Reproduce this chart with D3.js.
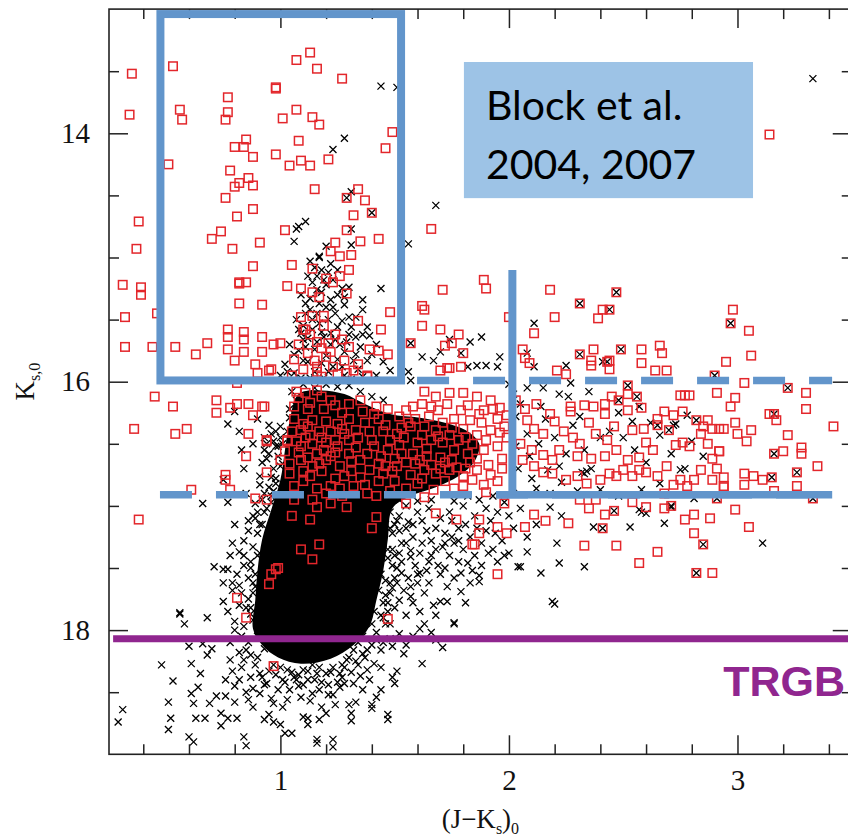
<!DOCTYPE html>
<html>
<head>
<meta charset="utf-8">
<script src="https://cdn.jsdelivr.net/npm/d3@7"></script>
<style>
  body { margin: 0; background: #fff; }
  svg { display: block; }
</style>
</head>
<body>
<script>
// ---- Axis ticks ----
const xMajorTicks = [1, 2, 3];
const xMinorTicks = [0.4, 0.6, 0.8, 1.2, 1.4, 1.6, 1.8, 2.2, 2.4, 2.6, 2.8, 3.2, 3.4];
const yMajorTicks = [14, 16, 18];
const yMinorTicks = [13.5, 14.5, 15, 15.5, 16.5, 17, 17.5, 18.5];

// ---- All detected stars (black crosses), [J-Ks, Ks] ----
const fieldUpper = [[1.44,13.62],[1.51,13.63],[1.28,14.04],[1.23,14.13],[1.31,14.47],[1.07,14.77],[1.11,14.71],[1.08,14.75],[1.06,14.87],[1.31,14.77],[1.31,14.90],[1.56,14.89],[1.17,14.99],[1.20,14.91],[3.33,13.56],[1.68,14.58]];
const fieldPlume = [[1.17,15.00],[1.22,15.05],[1.25,15.10],[1.19,15.18],[1.16,15.26],[1.11,15.37],[1.22,15.34],[1.28,15.32],[1.30,15.24],[1.36,15.34],[1.44,15.25],[1.39,15.63],[1.48,15.91],[1.32,15.83],[1.11,15.72],[1.10,15.83],[1.13,15.42],[1.17,15.53],[1.22,15.61],[1.25,15.56],[1.30,15.48],[1.33,15.64],[1.16,15.68],[1.20,15.79],[1.25,15.82],[1.29,15.68],[1.36,15.42],[1.38,15.56],[1.09,15.61],[1.07,15.50],[1.08,15.75],[1.06,15.93],
  [1.12,15.15],[1.14,15.20],[1.18,15.28],[1.20,15.40],[1.14,15.50],[1.18,15.60],[1.12,15.65],[1.26,15.70],[1.23,15.88],[1.15,15.92],[1.19,15.97],[1.28,15.95],[1.34,15.90],[1.40,15.78],[1.10,15.55],[1.24,15.45],[1.27,15.25],[1.21,15.12],[1.15,15.08],[1.09,15.30],[1.31,15.56],[1.35,15.72],[1.04,15.70],[1.02,15.86],[1.00,15.95],[1.45,15.84],[1.42,15.70],
  [1.13,15.03],[1.18,15.10],[1.23,15.18],[1.16,15.15],[1.20,15.22],[1.25,15.30],[1.13,15.33],[1.17,15.37],[1.23,15.40],[1.28,15.38],[1.11,15.45],[1.16,15.45],[1.21,15.50],[1.27,15.51],[1.33,15.48],[1.08,15.58],[1.14,15.58],[1.19,15.64],[1.24,15.66],[1.30,15.62],[1.36,15.62],[1.10,15.66],[1.15,15.74],[1.22,15.70],[1.28,15.76],[1.33,15.78],[1.38,15.83],[1.06,15.78],[1.12,15.84],[1.18,15.85],[1.21,15.92],[1.27,15.88],[1.31,15.98],[1.36,15.96],[1.42,15.95],[1.09,15.97],[1.03,15.92],[1.13,15.97],
  [1.10,16.02],[1.15,16.05],[1.20,16.02],[1.25,16.04],[1.30,16.03],[1.35,16.08],[1.40,16.12],[1.45,16.15],[1.05,16.08],
  [1.83,15.68],[1.88,15.64],[1.70,15.76],[1.62,15.80],[1.56,15.92],[1.57,15.99],[1.96,15.80],[1.95,15.88],[2.11,15.53],[2.08,15.77],[2.11,15.88],[2.25,15.87],[2.27,16.01],[2.41,15.84],[1.74,15.66],[1.79,15.77],[1.67,15.83],[1.82,15.88],[1.86,15.87],[1.90,15.87]];
const fieldSide = [[0.77,16.34],[0.82,16.40],[0.83,16.55],[0.80,16.24],[0.66,16.98],[0.77,16.97],[0.91,16.83],[0.88,17.08],[0.75,16.79],[0.98,16.52],[1.00,16.36],[0.94,16.50],[0.79,17.30],[0.99,16.52],[1.01,16.66],[0.98,16.82],[1.04,16.29],[1.07,16.15],[0.90,16.30],[0.93,16.45],[0.95,16.58],[0.92,16.65],[0.97,16.88],[0.98,16.40],
  [0.93,16.90],[0.96,16.97],[0.90,17.05],[0.92,17.15],[0.86,17.20],[0.88,17.33],[0.84,17.40],[0.86,17.58],[0.83,17.70],[0.85,17.82],[0.80,17.93],[0.83,18.05],[0.78,18.10],[0.87,18.20],[0.89,17.65],[0.87,17.45],[0.89,17.10],[0.95,16.85],[0.97,16.70],[0.99,16.60],[1.00,16.45],[0.96,16.42],
  [1.52,17.08],[1.55,17.18],[1.50,17.40],[1.53,17.45],[1.50,17.58],[1.47,17.85],[1.45,17.90],[1.42,18.08],[1.38,18.16],[1.30,18.22],[1.52,17.20],[1.56,17.13],
  [1.55,17.00],[1.60,17.05],[1.65,17.02],[1.70,17.10],[1.74,17.05],[1.80,17.00],[1.85,17.08],[1.90,17.02],[1.95,17.05],[2.00,17.08],[1.58,17.15],[1.64,17.20],[1.72,17.22],[1.78,17.18],[1.83,17.25],[1.90,17.20],[1.97,17.28],[1.62,17.30],[1.68,17.35],[1.92,17.12],[1.87,16.95],[1.93,16.92],[1.98,16.97],[2.02,16.90],
  [1.52,16.95],[1.60,16.96],[1.66,16.95],[1.76,16.96],[1.82,16.92],[1.62,17.12],[1.68,17.18],[1.75,17.12],[1.81,17.15],[1.86,17.18],[1.58,17.25],[1.66,17.40],[1.72,17.30],[1.78,17.28],[1.88,17.30],[1.94,17.22],[2.02,17.18],[1.60,17.55],[1.64,17.52],[1.72,17.50],[1.84,17.52],[1.98,17.40]];
// crosses crowding the edges of the core
const fieldFeather = [[0.95,16.35],[0.97,16.48],[0.94,16.62],[0.96,16.77],[0.92,16.95],[0.94,17.02],[0.90,17.22],[0.91,17.38],[0.87,17.50],[0.88,17.62],[0.86,17.75],[0.87,17.87],[0.84,17.97],[0.86,18.10],[0.90,18.22],[0.82,17.80],[0.81,17.55],[0.84,17.28],[0.86,17.12],[0.89,16.98],[0.91,16.76],[0.93,16.55],[0.85,16.90],[0.80,17.15],[0.78,17.40],[0.79,17.68],[0.80,18.00],[0.77,17.85],[0.75,17.62],[0.82,18.18],[0.84,16.70],[0.88,16.50],
  [0.90,17.40],[0.89,17.55],[0.88,17.70],[0.87,17.82],[0.88,17.92],[0.90,18.05],[0.93,18.15],[0.91,17.15],[0.93,17.05],[0.96,16.92],[0.98,16.78],[1.00,16.68],[1.01,16.50],[1.03,16.40],[1.04,16.22],
  [1.48,17.05],[1.51,17.12],[1.49,17.22],[1.53,17.30],[1.47,17.35],[1.51,17.50],[1.48,17.62],[1.54,17.68],[1.46,17.72],[1.50,17.82],[1.44,17.88],[1.48,17.95],[1.42,18.02],[1.45,18.10],[1.40,18.12],[1.36,18.19],[1.33,18.25],[1.27,18.28],[1.57,17.36],[1.59,17.48],[1.56,17.58],[1.60,17.62],[1.58,17.78],[1.55,17.88],[1.63,17.70],[1.65,17.45],[1.66,17.28],[1.71,17.33],[1.75,17.25],[1.80,17.35],[1.85,17.40],[1.78,17.45],[1.70,17.55],[1.73,17.65],[1.67,17.80],[1.63,17.95],[1.58,18.05],[1.55,18.12],[1.68,18.08],[1.81,17.78],[1.95,17.45],[2.00,17.38],[2.08,17.25],[2.12,17.15],[2.05,17.02],[1.93,17.35],[1.88,17.48],[1.83,17.62],
  [1.46,17.10],[1.48,17.18],[1.45,17.30],[1.47,17.42],[1.44,17.55],[1.46,17.60],[1.43,17.68],[1.45,17.78],[1.41,17.85],[1.40,17.95],[1.36,18.05],[1.34,18.10],[1.50,17.15],[1.52,17.38],[1.49,17.66],[1.47,17.78],
  [0.97,18.28],[1.03,18.32],[1.08,18.36],[1.12,18.33],[1.17,18.30],[1.22,18.34],[1.27,18.38],[1.31,18.34],[1.02,18.42],[1.06,18.38],[1.10,18.44],[1.15,18.40],[1.21,18.44],[0.92,18.38],[0.98,18.36],[1.25,18.42]];
const fieldLower = [[0.31,18.64],[0.29,18.74],[0.48,18.28],[0.53,18.41],[0.51,18.58],[0.51,18.80],[0.52,18.71],[0.56,17.87],[0.58,17.95],[0.68,17.90],[0.60,18.13],[0.61,18.27],[0.61,18.51],[0.62,18.59],[0.60,18.86],[0.62,18.90],[0.63,18.71],[0.67,18.71],[0.69,18.59],[0.71,17.49],[0.75,17.51],[0.77,17.51],[0.75,17.77],[0.79,17.62],[0.82,17.64],[0.82,17.37],[0.84,17.48],[0.74,18.67],[0.74,18.77],[0.77,18.71],[0.81,18.71],[0.84,18.86],[0.85,18.93],[0.64,18.46],[0.65,18.35],[0.68,18.20],[0.70,18.15],[0.66,18.11],[0.72,18.53],[0.76,18.53],[0.80,18.58],[0.85,18.50],[0.88,18.62],[0.93,18.72],[0.95,18.68],[0.97,18.74],[1.00,18.76],[1.02,18.83],[1.05,18.83],[1.01,18.62],[0.97,18.59],[1.09,18.54],[1.10,18.70],[1.12,18.71],[1.17,18.72],[1.20,18.67],[1.16,18.88],[1.23,18.88],[1.14,18.51],[1.17,18.48],[1.23,18.52],[1.26,18.46],[1.28,18.43],[1.30,18.60],[1.31,18.67],[1.33,18.58],[1.40,18.60],[1.42,18.54],[1.47,18.68],[1.44,18.48],[1.49,18.38],[1.51,18.33],[1.41,18.27],[1.38,18.32],[1.35,18.37],[1.32,18.43],[1.54,18.19],[1.49,18.13],[1.62,18.27],[1.71,18.14],[1.61,17.99],[1.66,18.02],[1.76,17.94],[1.68,17.88],[1.61,17.85],[1.57,17.73],[1.52,17.76],[1.57,17.65],[1.51,17.62],[1.53,17.54],[1.61,17.54],[1.65,17.62],[1.69,17.48],[1.74,17.40],[1.79,17.54],[1.76,17.58],[1.79,17.69],[1.73,17.77],[1.70,17.77],[1.82,17.46],[1.87,17.61],[1.91,17.38],[1.87,17.56],[2.04,17.49],[1.76,17.30],[1.61,17.38],[1.57,17.41],[1.49,17.35],[1.55,17.30],[1.49,17.48],[1.48,17.70],[1.46,17.95],[1.52,18.03],[1.48,18.07],[1.44,18.16],[0.85,18.16],[0.84,18.24],[0.79,18.33],[0.76,18.40],[0.82,18.40],[0.87,18.38],[0.91,18.35],[0.94,18.43],[0.91,18.51],[1.01,18.40],[1.04,18.48],[1.07,18.40],[1.12,18.40],[1.10,18.32],[1.16,18.35],[1.20,18.35],[1.23,18.30],[1.26,18.35],[1.29,18.24],[1.32,18.16],
  [1.00,18.30],[1.05,18.34],[1.14,18.28],[0.95,18.33],[0.89,18.28],[1.18,18.42],[1.08,18.45],[0.99,18.48],[0.93,18.44],[1.21,18.52],[1.13,18.57],[1.03,18.56],[0.96,18.55],[0.88,18.47],[0.80,18.45],[1.28,18.30],[1.34,18.28],[1.37,18.22],[1.44,18.30],[1.39,18.40],[1.36,18.48],[1.24,18.60],[0.83,18.30],[0.78,18.24],[0.86,18.56],[1.18,18.62],
  [1.76,17.95],[1.47,18.72],[1.31,18.73],[1.40,18.63],[1.50,18.43],[1.16,18.91],[1.23,18.94],[1.12,18.76],[2.20,17.79],[0.56,17.86]];
const fieldRight = [[2.02,16.10],[2.05,16.18],[2.03,16.28],[2.08,16.42],[2.03,16.52],[2.09,16.60],[2.04,16.70],[2.10,16.78],[2.13,16.50],[2.16,16.30],[2.20,16.45],[2.22,16.68],[2.25,16.58],[2.28,16.35],[2.31,16.28],[2.33,16.55],[2.36,16.70],[2.40,16.45],[2.44,16.40],[2.26,16.12],[2.14,16.20],[2.35,16.08],[2.18,16.90],[2.30,16.88],[2.12,16.86],[2.40,16.87],[2.50,16.45],[2.55,16.55],[2.60,16.65],[2.62,16.33],[2.66,16.43],[2.71,16.58],[2.48,16.25],[2.57,16.20],[2.73,16.34],[2.80,16.48],[2.85,16.60],[2.77,16.70],[2.58,16.87],[2.66,16.82],[2.48,16.92],
  [2.32,16.73],[2.33,16.74],[2.34,16.72],[2.54,16.32],[2.72,16.35],[2.68,17.14],[2.53,17.17],[2.37,17.17],[2.21,17.30],[2.08,17.37],[2.05,17.49],[2.14,17.54],[2.22,17.46],[2.33,17.49],[2.19,17.77],[3.11,17.30],[2.81,16.94],[2.58,17.05],[2.60,17.06],[2.71,17.01],[2.75,16.71],[2.17,16.71],[2.23,16.81],[2.57,17.03],[2.00,16.02],[2.08,16.05],[2.15,16.05],[2.22,16.10],[2.18,17.01],[2.23,17.08]];
// stars that also carry a red mark
const fieldMatched = [[2.47,15.28],[2.31,15.37],[2.44,15.42],[2.97,15.53],[2.49,15.74],[2.31,15.78],[2.43,15.84],[2.90,15.95],[2.52,16.03],[3.22,16.05],[3.16,16.26],[3.16,16.58],[3.26,16.73],[3.15,16.77],[3.33,16.94],[2.91,16.94],[2.85,17.31],[2.82,17.54],[2.71,17.00],[2.46,17.04],[2.41,17.18],[2.82,16.31],[2.78,16.27],[2.65,16.35],[2.70,16.39],[2.56,16.12],[2.48,16.15],[1.29,14.52],[1.40,14.64],[1.57,15.69]];

// Region where the crosses overlap completely (J-Ks, Ks outline)
const denseCoreOutline = [[1.08,16.10],[1.18,16.07],[1.28,16.10],[1.37,16.18],[1.48,16.26],[1.61,16.29],[1.72,16.33],[1.82,16.40],[1.87,16.50],[1.85,16.64],[1.78,16.76],[1.68,16.85],[1.57,16.92],[1.49,17.02],[1.47,17.27],[1.45,17.52],[1.42,17.76],[1.39,17.97],[1.32,18.12],[1.22,18.23],[1.09,18.27],[0.99,18.22],[0.92,18.12],[0.88,17.99],[0.89,17.76],[0.90,17.52],[0.92,17.27],[0.96,17.03],[1.00,16.79],[1.02,16.55],[1.04,16.32]];

// ---- Red-giant / AGB candidates (red squares), [J-Ks, Ks] ----
const agbUpper = [[0.35,13.52],[0.34,13.85],[0.53,13.46],[1.13,13.35],[1.07,13.41],[1.16,13.48],[1.27,13.56],[0.98,13.63],[0.98,13.64],[0.77,13.71],[0.56,13.81],[0.57,13.89],[0.77,13.83],[0.76,13.89],[1.01,13.88],[1.07,13.81],[1.14,13.87],[1.17,13.93],[1.49,13.99],[0.85,14.05],[0.80,14.11],[0.84,14.11],[0.88,14.19],[1.08,14.06],[0.98,14.17],[1.04,14.26],[1.09,14.22],[1.13,14.26],[1.21,14.21],[1.46,14.12],[0.51,14.25],[0.78,14.30],[0.86,14.36],[0.82,14.40],[0.80,14.43],[0.88,14.42],[0.76,14.52],[1.15,14.45],[1.34,14.45],[1.29,14.52],[1.37,14.54],[0.38,14.71],[0.37,14.93],[0.88,14.61],[0.81,14.67],[1.32,14.66],[1.40,14.64],[1.02,14.78],[1.29,14.78],[0.74,14.79],[0.70,14.85],[0.91,14.88],[0.79,14.93],[1.43,14.85],[1.35,14.87],[1.24,14.88],[1.22,14.95],[1.26,14.99],[1.31,14.98],[0.31,15.22],[0.39,15.24],[0.39,15.30]];
const agbBoxLower = [[0.88,15.07],[0.82,15.20],[0.82,15.21],[0.85,15.20],[1.05,15.06],[1.14,15.09],[1.20,15.17],[1.23,15.20],[1.26,15.15],[1.03,15.23],[1.09,15.25],[1.14,15.28],[1.17,15.32],[0.82,15.37],[0.92,15.38],[1.29,15.29],[1.30,15.10],[1.48,15.44],[1.34,15.51],[1.44,15.58],[1.09,15.48],[1.14,15.47],[1.19,15.47],[1.11,15.58],[0.77,15.58],[0.77,15.64],[0.84,15.60],[0.84,15.66],[0.92,15.64],[0.97,15.70],[1.00,15.69],[0.68,15.69],[0.63,15.78],[0.54,15.72],[0.77,15.74],[0.80,15.83],[0.84,15.76],[0.92,15.76],[0.89,15.86],[0.96,15.90],[0.90,15.93],[1.10,15.58],[1.19,15.55],[1.24,15.62],[1.39,15.74],[1.43,15.75],[1.47,15.78],[1.38,15.95],[1.29,15.93],[1.25,15.94],[1.16,15.88],[1.15,15.83],[1.20,15.80],[1.28,15.83],[1.34,15.86],[1.30,15.72],[1.27,15.66],[1.21,15.69],[0.46,15.45],[0.44,15.72],[0.32,15.48],[0.32,15.72],
  [1.13,15.62],[1.16,15.68],[1.08,15.70],[1.12,15.77],[1.18,15.73],[1.22,15.76],[1.06,15.82],[1.10,15.90],[1.18,15.96],[1.23,15.88],[1.05,15.95]];
const agbLeft = [[0.45,16.12],[0.53,16.20],[0.72,16.15],[0.72,16.25],[0.78,16.21],[0.81,16.18],[0.86,16.18],[0.92,16.20],[0.88,16.27],[0.81,16.01],[0.54,16.42],[0.59,16.38],[0.86,16.42],[0.85,16.60],[0.94,16.48],[1.03,16.48],[0.94,16.73],[0.76,16.75],[0.76,16.79],[0.61,16.87],[0.89,16.94],[0.94,16.95],[0.78,16.87],[0.36,16.38],[0.38,17.11],
  [0.99,17.50],[0.96,17.55],[0.81,17.74],[0.85,17.90],[0.97,18.29],[1.47,17.91],[1.85,17.31],[0.98,17.51],[0.95,17.63]];
const agbClump = [[0.95,15.91],[1.16,15.92],[1.32,15.91],[1.38,15.96],[1.74,15.89],[1.79,15.88],[1.07,16.08],[1.11,16.09],[1.16,16.07],[1.22,16.15],[1.35,16.15],[1.42,16.20],[1.55,16.23],[1.63,16.08],[1.68,16.12],[1.74,16.09],[1.80,16.09],[1.86,16.12],[1.92,16.15],[1.96,16.21],[1.58,16.20],[1.66,16.20],[1.79,16.23],[1.89,16.23],[0.93,16.20],[1.06,16.30],[1.10,16.34],[1.14,16.31],[1.20,16.32],[1.25,16.34],[1.09,16.39],[1.17,16.40],[1.22,16.40],[1.28,16.42],[1.33,16.39],[1.39,16.40],[1.45,16.40],[1.51,16.42],[1.57,16.36],[1.62,16.43],[1.68,16.39],[1.74,16.43],[1.80,16.38],[1.86,16.43],[1.92,16.39],[1.98,16.36],[0.94,16.47],[1.03,16.47],[1.09,16.52],[1.14,16.50],[1.19,16.55],[1.25,16.52],[1.30,16.58],[1.35,16.63],[1.41,16.52],[1.47,16.55],[1.52,16.51],[1.58,16.58],[1.64,16.54],[1.70,16.61],[1.76,16.55],[1.82,16.58],[1.89,16.55],[1.95,16.52],[1.00,16.63],[1.09,16.63],[1.14,16.68],[1.20,16.63],[1.26,16.68],[1.13,16.76],[1.22,16.84],[1.28,16.76],[1.39,16.71],[1.45,16.74],[1.51,16.68],[1.57,16.75],[1.63,16.71],[1.68,16.74],[1.74,16.71],[1.80,16.76],[1.86,16.71],[1.92,16.75],[1.89,16.83],[1.04,16.74],[1.06,16.84],[1.06,16.95],[1.16,17.01],[1.22,16.98],[1.29,17.01],[1.38,16.90],[1.42,17.09],[1.55,16.98],[1.63,16.93],[1.68,17.06],[1.77,17.11],[1.87,17.11],[1.95,17.17],[1.99,17.22],[1.05,17.08],[1.13,17.11],[1.09,17.35],[1.17,17.31],[1.14,17.43],[1.40,17.18],[1.95,17.55],[1.84,17.31],[1.87,17.22],
  [1.12,16.36],[1.18,16.45],[1.24,16.47],[1.30,16.47],[1.16,16.58],[1.22,16.60],[1.11,16.45],[1.05,16.40],[1.33,16.53],[1.44,16.60],[1.50,16.62],[1.55,16.65],[1.61,16.63],[1.66,16.67],[1.72,16.65],[1.77,16.69],[1.83,16.65],[1.48,16.47],[1.54,16.45],[1.60,16.49],[1.66,16.47],[1.71,16.49],[1.78,16.47],[1.84,16.50],[1.59,16.30],[1.65,16.28],[1.71,16.33],[1.76,16.30],[1.83,16.31],[1.88,16.33],[1.95,16.30],[1.43,16.30],[1.37,16.33],[1.30,16.30],[1.27,16.25],[1.19,16.22],[1.12,16.22],[1.06,16.20],[1.46,16.68],[1.35,16.77],[1.32,16.84],[1.50,16.80],[1.60,16.82],[1.72,16.80],[1.80,16.84],[1.95,16.80],[1.97,16.62],[1.99,16.45],[1.14,16.95],[1.20,16.90],[1.27,16.92],
  [1.08,16.13],[1.13,16.17],[1.18,16.12],[1.24,16.19],[1.30,16.18],[1.36,16.24],[1.41,16.26],[1.47,16.22],[1.52,16.28],[1.56,16.33],[1.62,16.18],[1.69,16.23],[1.73,16.18],[1.82,16.19],[1.87,16.26],[1.93,16.22],[1.99,16.27],[1.07,16.48],[1.13,16.43],[1.20,16.49],[1.27,16.38],[1.34,16.45],[1.40,16.47],[1.46,16.35],[1.53,16.37],[1.63,16.36],[1.69,16.44],[1.75,16.37],[1.81,16.45],[1.90,16.47],[1.96,16.41],[1.08,16.57],[1.12,16.61],[1.17,16.66],[1.24,16.57],[1.31,16.64],[1.38,16.58],[1.43,16.66],[1.49,16.72],[1.53,16.58],[1.59,16.66],[1.64,16.60],[1.70,16.70],[1.75,16.63],[1.81,16.70],[1.86,16.62],[1.91,16.67],[1.97,16.70],[1.02,16.56],[1.04,16.66],[1.10,16.72],[1.18,16.72],[1.24,16.78],[1.31,16.72],[1.37,16.83],[1.43,16.80],[1.55,16.86],[1.62,16.78],[1.67,16.87],[1.76,16.86],[1.84,16.79],[1.90,16.89],[1.10,16.80],[1.16,16.86],[1.26,16.86],[1.42,16.92],[1.48,16.88]];
const agbRight = [[1.89,15.18],[1.90,15.25],[2.18,15.26],[2.47,15.28],[2.31,15.37],[2.41,15.42],[2.44,15.42],[2.39,15.49],[2.20,15.48],[2.98,15.42],[2.97,15.53],[3.05,15.59],[3.06,15.79],[2.95,15.84],[2.11,15.61],[2.37,15.74],[2.49,15.74],[2.58,15.74],[2.66,15.71],[2.67,15.77],[2.31,15.78],[2.36,15.83],[2.36,15.87],[2.44,15.83],[2.58,15.85],[2.43,15.84],[2.44,15.90],[2.64,15.91],[2.69,15.91],[2.90,15.95],[2.25,15.94],[2.21,15.91],[1.62,15.39],[1.63,15.42],[1.62,15.55],[1.70,15.58],[1.78,15.62],[1.57,15.69],[1.71,15.26],[1.66,14.77],[3.14,14.01],[2.00,15.48],[2.06,15.74],[2.07,15.81],[2.09,15.85],[1.72,15.71],[1.75,15.69],[1.80,15.77],[1.70,15.91],[1.73,15.89],
  [2.52,16.03],[2.75,16.11],[2.77,16.11],[2.79,16.11],[2.91,16.09],[2.99,16.13],[3.03,16.01],[3.22,16.05],[3.30,16.09],[2.97,16.20],[3.30,16.22],[3.42,16.36],[3.14,16.26],[3.16,16.26],[3.17,16.31],[3.22,16.43],[3.20,16.56],[3.16,16.58],[3.28,16.53],[3.28,16.58],[3.35,16.68],[3.26,16.73],[3.15,16.77],[3.03,16.74],[3.07,16.76],[3.11,16.79],[3.03,16.83],[3.16,16.88],[3.26,16.84],[3.33,16.94],[2.99,16.33],[3.06,16.39],[3.00,16.42],[3.04,16.48],[2.92,16.56],[2.91,16.70],[2.94,16.77],[2.94,16.85],[2.91,16.94],[2.99,17.03],[3.05,17.17],[2.88,17.10],[2.81,17.07],[2.77,17.11],[2.81,17.22],[2.85,17.31],[2.82,17.54],[2.89,17.54],[2.65,17.37],[2.57,17.46],[2.47,17.32],[2.33,17.32],[2.68,17.02],[2.71,17.00],[2.54,16.97],[2.46,17.04],[2.42,17.07],[2.41,17.18],[2.26,17.14],[2.16,17.12],[2.07,17.17],[1.98,16.98],[2.11,17.07],[2.31,16.95],[2.35,17.02],[2.38,16.95],[2.60,17.01],[2.68,16.90],
  [2.92,16.38],[2.94,16.38],[2.65,16.35],[2.70,16.39],[2.56,16.12],[2.52,16.10],[2.45,16.12],[2.42,16.18],[2.48,16.15],[2.58,16.21],
  [2.08,16.31],[2.11,16.38],[2.10,16.55],[2.15,16.59],[2.19,16.63],[2.27,16.20],[2.27,16.24],[2.33,16.19],[2.35,16.33],[2.31,16.50],[2.38,16.42],[2.42,16.26],[2.43,16.47],[2.47,16.55],[2.46,16.36],[2.52,16.23],[2.54,16.39],[2.59,16.38],[2.60,16.49],[2.63,16.55],[2.57,16.61],[2.52,16.63],[2.50,16.71],[2.54,16.76],[2.57,16.71],[2.60,16.73],[2.65,16.76],[2.69,16.68],[2.73,16.51],[2.76,16.49],[2.79,16.52],[2.84,16.42],[2.85,16.36],[2.87,16.50],[2.89,16.62],[2.92,16.56],[2.84,16.71],[2.81,16.79],[2.89,16.79],[2.94,16.84],[2.78,16.84],[2.75,16.79],[2.72,16.83],[2.65,16.30],[2.68,16.24],[2.72,16.27],[2.76,16.24],[2.82,16.31],[2.89,16.38],[2.87,16.31],[2.37,16.20],[2.18,16.26],[2.15,16.42],[2.05,16.50],[2.06,16.63],[2.11,16.68],[2.15,16.73],[2.19,16.74],[2.25,16.79],[2.30,16.76],[2.34,16.82],[2.40,16.79],[2.44,16.74],[2.47,16.76],
  [2.03,16.15],[2.07,16.22],[2.12,16.18],[2.20,16.32],[2.24,16.40],[2.28,16.45],[2.22,16.55],[2.30,16.60],[2.36,16.62],[2.42,16.60]];

// ---- Selection boxes and limits, in J-Ks / Ks ----
const brightBoxColour = [0.475, 1.528];
const brightBoxMag = [13.04, 15.99];
const upperCut = { mag: 15.99, colour: [1.598, 3.414] };
const lowerCut = { mag: 16.91, colour: [0.473, 3.414] };
const lowerCutSolid = [1.948, 3.414];
const colourCut = { colour: 2.015, mag: [15.10, 16.91] };
const trgbMag = 18.07;
const trgbColour = [0.268, 3.5];
const labelBoxColour = [1.803, 3.068];
const labelBoxMag = [13.426, 14.522];

// ---- Scales ----
const W = 848, H = 839;
const x = d3.scaleLinear().domain([0.25, 3.5]).range([109, 851.75]);
const y = d3.scaleLinear().domain([13, 19]).range([9.1, 754.3]);

const svg = d3.select("body").append("svg").attr("width", W).attr("height", H)
  .style("font-family", "'Liberation Serif', 'DejaVu Serif', serif");

svg.append("defs").append("clipPath").attr("id", "frameClip")
  .append("rect").attr("x", x(0.25)).attr("y", y(13))
  .attr("width", x(3.5) - x(0.25)).attr("height", y(19) - y(13));

const marks = svg.append("g").attr("clip-path", "url(#frameClip)");

// saturated core, where individual crosses merge
marks.append("path")
  .datum(denseCoreOutline)
  .attr("d", d3.line().x(d => x(d[0])).y(d => y(d[1])).curve(d3.curveCatmullRomClosed))
  .attr("fill", "#000");

// crosses
const crossPath = "M-3.5,-3.5L3.5,3.5M-3.5,3.5L3.5,-3.5";
const allCrosses = [].concat(fieldUpper, fieldPlume, fieldSide, fieldFeather, fieldLower, fieldRight, fieldMatched);
marks.append("g").selectAll("path").data(allCrosses).join("path")
  .attr("d", crossPath)
  .attr("transform", d => `translate(${x(d[0])},${y(d[1])})`)
  .attr("fill", "none").attr("stroke", "#000").attr("stroke-width", 1.3);

// squares
const allSquares = [].concat(agbUpper, agbBoxLower, agbLeft, agbClump, agbRight);
const sq = 8.5;
marks.append("g").selectAll("rect").data(allSquares).join("rect")
  .attr("x", d => x(d[0]) - sq / 2).attr("y", d => y(d[1]) - sq / 2)
  .attr("width", sq).attr("height", sq)
  .attr("fill", "none").attr("stroke", "#e3262b").attr("stroke-width", 1.5);

// ---- Frame and axes ----
svg.append("rect")
  .attr("x", x(0.25)).attr("y", y(13))
  .attr("width", x(3.5) - x(0.25)).attr("height", y(19) - y(13))
  .attr("fill", "none").attr("stroke", "#222").attr("stroke-width", 1.6);

function styleAxis(g) {
  g.select(".domain").remove();
  g.selectAll(".tick line").attr("stroke", "#222").attr("stroke-width", 1.5);
  g.selectAll(".tick text").attr("fill", "#111").style("font-family", "'Liberation Serif', serif").style("font-size", "29px");
}
const fmt = d3.format("d");
svg.append("g").attr("transform", `translate(0,${y(19)})`)
  .call(d3.axisBottom(x).tickValues(xMajorTicks).tickSize(-19).tickPadding(15).tickFormat(fmt)).call(styleAxis);
svg.append("g").attr("transform", `translate(0,${y(19)})`)
  .call(d3.axisBottom(x).tickValues(xMinorTicks).tickSize(-10).tickFormat("")).call(styleAxis);
svg.append("g").attr("transform", `translate(0,${y(13)})`)
  .call(d3.axisTop(x).tickValues(xMajorTicks).tickSize(-19).tickFormat("")).call(styleAxis);
svg.append("g").attr("transform", `translate(0,${y(13)})`)
  .call(d3.axisTop(x).tickValues(xMinorTicks).tickSize(-10).tickFormat("")).call(styleAxis);
svg.append("g").attr("transform", `translate(${x(0.25)},0)`)
  .call(d3.axisLeft(y).tickValues(yMajorTicks).tickSize(-19).tickPadding(19).tickFormat(fmt)).call(styleAxis);
svg.append("g").attr("transform", `translate(${x(0.25)},0)`)
  .call(d3.axisLeft(y).tickValues(yMinorTicks).tickSize(-10).tickFormat("")).call(styleAxis);
svg.append("g").attr("transform", `translate(${x(3.5)},0)`)
  .call(d3.axisRight(y).tickValues(yMajorTicks).tickSize(-19).tickFormat("")).call(styleAxis);
svg.append("g").attr("transform", `translate(${x(3.5)},0)`)
  .call(d3.axisRight(y).tickValues(yMinorTicks).tickSize(-10).tickFormat("")).call(styleAxis);

// axis titles
const xt = svg.append("text").attr("x", (x(0.25) + x(3.5)) / 2).attr("y", 828)
  .attr("text-anchor", "middle").style("font-size", "27px").attr("fill", "#111");
xt.append("tspan").text("(J\u2212K");
xt.append("tspan").text("s").style("font-size", "16px").attr("dy", 6);
xt.append("tspan").text(")").attr("dy", -6);
xt.append("tspan").text("0").style("font-size", "16px").attr("dy", 6);

const yt = svg.append("text")
  .attr("transform", `translate(34,${(y(13) + y(19)) / 2}) rotate(-90)`)
  .attr("text-anchor", "middle").style("font-size", "27px").attr("fill", "#111");
yt.append("tspan").text("K");
yt.append("tspan").text("s,0").style("font-size", "16px").attr("dy", 6);

// ---- Overlays ----
const blue = "#6295cb";
svg.append("rect")
  .attr("x", x(brightBoxColour[0])).attr("y", y(brightBoxMag[0]))
  .attr("width", x(brightBoxColour[1]) - x(brightBoxColour[0]))
  .attr("height", y(brightBoxMag[1]) - y(brightBoxMag[0]))
  .attr("fill", "none").attr("stroke", blue).attr("stroke-width", 8);

svg.append("line")
  .attr("x1", x(upperCut.colour[0])).attr("x2", x(upperCut.colour[1]))
  .attr("y1", y(upperCut.mag)).attr("y2", y(upperCut.mag))
  .attr("stroke", blue).attr("stroke-width", 7.5).attr("stroke-dasharray", "32,24");
svg.append("line")
  .attr("x1", x(lowerCut.colour[0])).attr("x2", x(lowerCut.colour[1]))
  .attr("y1", y(lowerCut.mag)).attr("y2", y(lowerCut.mag))
  .attr("stroke", blue).attr("stroke-width", 7.5).attr("stroke-dasharray", "32,24");
svg.append("line")
  .attr("x1", x(lowerCutSolid[0])).attr("x2", x(lowerCutSolid[1]))
  .attr("y1", y(lowerCut.mag)).attr("y2", y(lowerCut.mag))
  .attr("stroke", blue).attr("stroke-width", 7.5);
svg.append("line")
  .attr("x1", x(colourCut.colour)).attr("x2", x(colourCut.colour))
  .attr("y1", y(colourCut.mag[0])).attr("y2", y(colourCut.mag[1]))
  .attr("stroke", blue).attr("stroke-width", 8);

// TRGB
const purple = "#90268f";
svg.append("line")
  .attr("x1", x(trgbColour[0])).attr("x2", x(trgbColour[1]))
  .attr("y1", y(trgbMag)).attr("y2", y(trgbMag))
  .attr("stroke", purple).attr("stroke-width", 7);
svg.append("text").attr("x", 845).attr("y", 696).attr("text-anchor", "end")
  .style("font-family", "'Liberation Sans', Arial, sans-serif").style("font-weight", "bold")
  .style("font-size", "43px").attr("fill", purple).text("TRGB");

// reference label
svg.append("rect")
  .attr("x", x(labelBoxColour[0])).attr("y", y(labelBoxMag[0]))
  .attr("width", x(labelBoxColour[1]) - x(labelBoxColour[0]))
  .attr("height", y(labelBoxMag[1]) - y(labelBoxMag[0]))
  .attr("fill", "#9dc3e6");
const lab = svg.append("text").style("font-family", "Lato, 'Open Sans', sans-serif")
  .style("font-size", "41px").attr("fill", "#000");
lab.append("tspan").attr("x", 486).attr("y", 120).text("Block et al.");
lab.append("tspan").attr("x", 486).attr("y", 179).text("2004, 2007");
</script>
</body>
</html>
